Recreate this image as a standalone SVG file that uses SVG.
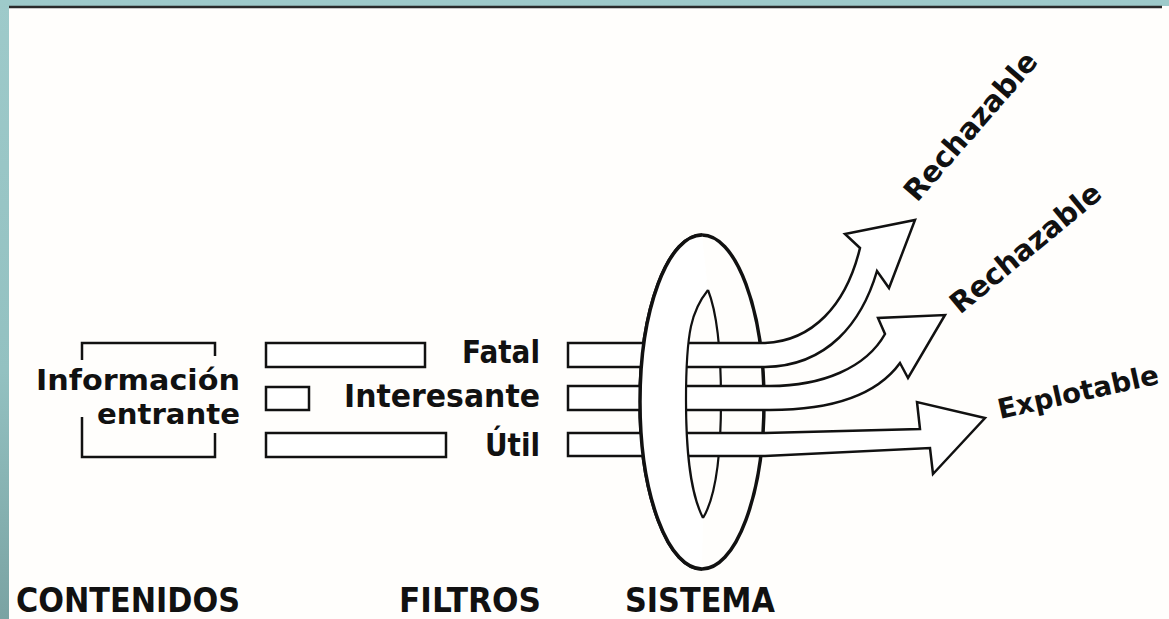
<svg xmlns="http://www.w3.org/2000/svg" width="1169" height="619" viewBox="0 0 1169 619">
  <defs>
    <linearGradient id="teal" x1="0" y1="0" x2="0" y2="1">
      <stop offset="0" stop-color="#9ecaca"/>
      <stop offset="0.6" stop-color="#93c1c1"/>
      <stop offset="1" stop-color="#7aa3a3"/>
    </linearGradient>
    <style>
      .lbl { font-family: "DejaVu Sans", Verdana, sans-serif; font-weight: bold; font-size: 32px; fill: #111; }
      .lbs { font-family: "DejaVu Sans", Verdana, sans-serif; font-weight: bold; font-size: 29px; fill: #111; }
      .big { font-family: "DejaVu Sans", Verdana, sans-serif; font-weight: bold; font-size: 33px; fill: #111; }
      .rot { font-family: "DejaVu Sans", Verdana, sans-serif; font-weight: bold; font-size: 29px; fill: #111; }
      .ln { fill: none; stroke: #111; stroke-width: 2.5; }
      .box { fill: #fff; stroke: #111; stroke-width: 2.5; stroke-linejoin: miter; }
      .ring { fill: none; stroke: #111; stroke-width: 3.5; }
      .thin { fill: none; stroke: #111; stroke-width: 2.2; }
    </style>
  </defs>

  <!-- frame -->
  <rect x="0" y="0" width="1169" height="619" fill="url(#teal)"/>
  <rect x="9" y="6" width="1160" height="613" fill="#fffefc"/>
  <line x1="9" y1="7" x2="1162" y2="7" stroke="#2a2a2a" stroke-width="2.5"/>

  <!-- CONTENIDOS node -->
  <g id="contenidos">
    <path class="ln" d="M82,360 L82,343 L215,343 L215,356"/>
    <path class="ln" d="M82,417 L82,457 L215,457 L215,433"/>
    <text class="lbs" x="36" y="390" textLength="204" lengthAdjust="spacingAndGlyphs">Información</text>
    <text class="lbs" x="97" y="424" textLength="143" lengthAdjust="spacingAndGlyphs">entrante</text>
  </g>

  <!-- FILTROS node -->
  <g id="filtros">
    <rect class="box" x="266" y="343" width="159" height="24"/>
    <rect class="box" x="266" y="387" width="43" height="23"/>
    <rect class="box" x="266" y="433" width="180" height="24"/>
    <text class="lbl" x="462" y="363" textLength="78" lengthAdjust="spacingAndGlyphs">Fatal</text>
    <text class="lbl" x="344" y="407" textLength="196" lengthAdjust="spacingAndGlyphs">Interesante</text>
    <text class="lbl" x="485" y="456" textLength="55" lengthAdjust="spacingAndGlyphs">Útil</text>
  </g>

  <!-- SISTEMA ring (back part) -->
  <g id="sistema-back">
    <ellipse class="ring" cx="702" cy="402" rx="62" ry="167"/>
    <path class="thin" d="M708,290 C716,310 721,340 721,400 C721,460 714,500 703,518"/>
  </g>

  <!-- connectors: flows through the system -->
  <g id="connectors">
    <path class="box" d="M568,343 L765,343 C812,341 846,306 860,248 L845,234 L915,220 L889,288 L877,271 C862,322 828,366 765,367 L568,367 Z"/>
    <path class="box" d="M568,386 L770,386 C822,386 866,368 885,334 L878,318 L945,315 L908,378 L900,363 C876,396 830,410 770,410 L568,410 Z"/>
    <path class="box" d="M568,433 L765,433 L920,429 L917,402 L985,418 L933,474 L930,448 L765,456 L568,456 Z"/>
  </g>

  <!-- SISTEMA ring (front part) -->
  <g id="sistema">
    <path fill="#fff" d="M702,235 A62,167 0 0 0 702,569 L703,518 C694,500 686,470 686,400 C686,330 692,310 708,290 Z"/>
    <path class="ring" d="M702,235 A62,167 0 0 0 702,569"/>
    <path class="thin" d="M708,290 C692,310 686,330 686,400 C686,470 694,500 703,518"/>
  </g>

  <!-- output labels -->
  <g id="out-rechazable-1">
    <text class="rot" transform="translate(917,203) rotate(-49)">Rechazable</text>
  </g>
  <g id="out-rechazable-2">
    <text class="rot" transform="translate(960,315) rotate(-39.5)">Rechazable</text>
  </g>
  <g id="out-explotable">
    <text class="rot" style="font-size:27.5px" transform="translate(1000,419) rotate(-12.5)">Explotable</text>
  </g>

  <!-- column titles -->
  <g id="titles">
    <text class="big" x="16" y="612" textLength="224" lengthAdjust="spacingAndGlyphs">CONTENIDOS</text>
    <text class="big" x="399" y="612" textLength="142" lengthAdjust="spacingAndGlyphs">FILTROS</text>
    <text class="big" x="625" y="612" textLength="150" lengthAdjust="spacingAndGlyphs">SISTEMA</text>
  </g>
</svg>
